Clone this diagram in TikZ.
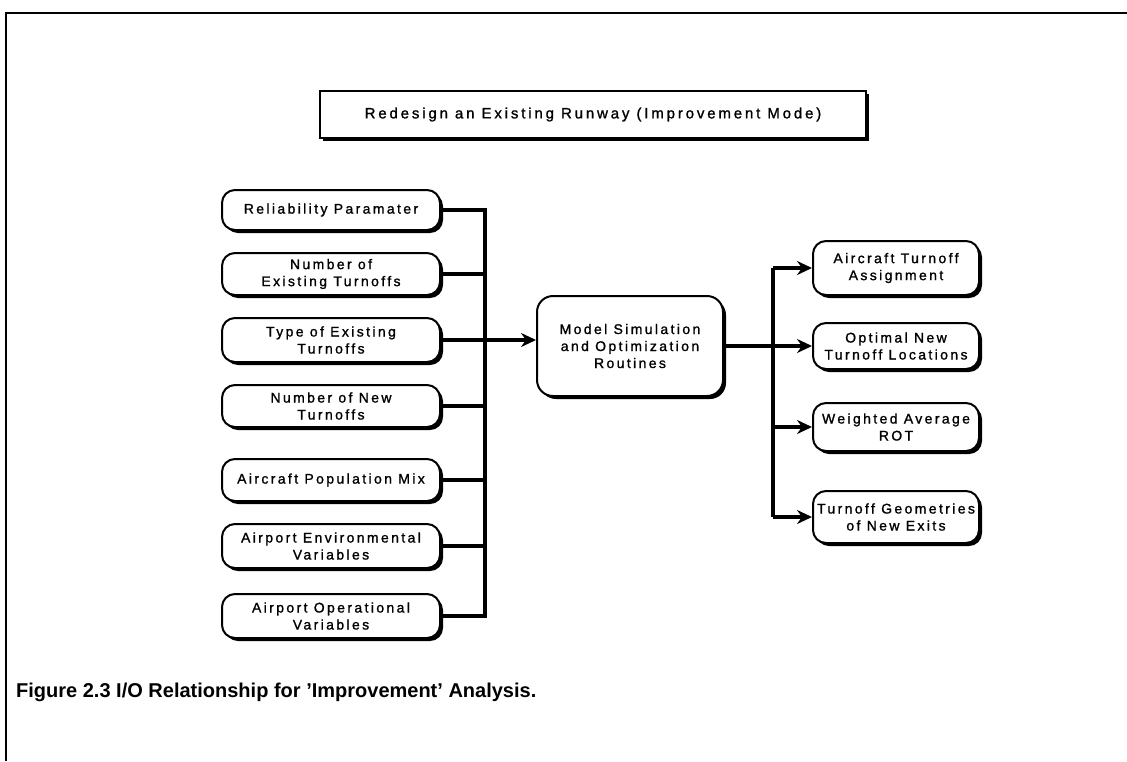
\documentclass[tikz,border=0pt]{standalone}
\usepackage{fontspec}
\setmainfont{Liberation Sans}
\newfontfamily\boxfont[LetterSpace=17,FakeBold=1.2]{Liberation Sans}
\newfontfamily\headfont[LetterSpace=19,FakeBold=1.2]{Liberation Sans}
\usetikzlibrary{arrows.meta,shadows}

\begin{document}
\begin{tikzpicture}[x=1pt,y=-1pt,
  font=\boxfont\fontsize{14}{17}\selectfont,
  shade/.style={drop shadow={shadow xshift=3pt,shadow yshift=-3pt,fill=black,opacity=1}},
  box/.style={draw,line width=2pt,rounded corners=13pt,fill=white,align=center,inner sep=0pt,shade},
  inbox/.style={box,minimum width=218pt,minimum height=42pt},
  outbox/.style={box,minimum width=166pt,minimum height=50pt},
  wire/.style={line width=3.2pt},
  arrow/.style={wire,-{Stealth[length=15pt,width=14pt,inset=5pt]}}
]
\useasboundingbox (0,0) rectangle (1127,761);

% page frame (top and left edges only)
\draw[line width=2.2pt] (6,761) -- (6,13) -- (1127,13);

% heading
\node[draw,line width=2pt,fill=white,inner sep=0pt,shade,
      minimum width=546pt,minimum height=47pt,
      font=\headfont\fontsize{15}{17}\selectfont] (title) at (593,114.5)
  {Redesign an Existing Runway (Improvement Mode)};

% inputs
\node[inbox,minimum height=40pt] (b1) at (331,210) {Reliability Paramater};
\node[inbox] (b2) at (331,274) {Number of\\Existing Turnoffs};
\node[inbox,minimum height=44pt] (b3) at (331,340) {Type of Existing\\Turnoffs};
\node[inbox] (b4) at (331,406) {Number of New\\Turnoffs};
\node[inbox] (b5) at (331,480) {Aircraft Population Mix};
\node[inbox,minimum height=44pt] (b6) at (331,546) {Airport Environmental\\Variables};
\node[inbox,minimum height=44pt] (b7) at (331,616) {Airport Operational\\Variables};

% model
\node[box,minimum width=186pt,minimum height=100pt,rounded corners=16pt] (model) at (630,346)
  {Model Simulation\\and Optimization\\Routines};

% outputs
\node[outbox,minimum height=54pt] (o1) at (896,268) {Aircraft Turnoff\\Assignment};
\node[outbox,minimum height=46pt] (o2) at (896,346) {Optimal New\\Turnoff Locations};
\node[outbox,minimum height=48pt] (o3) at (896,427) {Weighted Average\\ROT};
\node[outbox,minimum height=52pt] (o4) at (896,517) {Turnoff Geometries\\of New Exits};

% input bus
\coordinate (lbus) at (485,0);
\draw[wire] (b1.east) -- (b1.east -| lbus) -- (b7.east -| lbus) -- (b7.east);
\foreach \b in {b2,b4,b5,b6} \draw[wire] (\b.east) -- (\b.east -| lbus);
\draw[arrow] (b3.east) -- (b3.east -| model.west);

% output bus
\coordinate (rbus) at (773,0);
\draw[wire] (o1.west -| rbus) -- (o4.west -| rbus);
\draw[arrow] (model.east) -- (o2.west);
\foreach \o in {o1,o3,o4} \draw[arrow] (\o.west -| rbus) -- (\o.west);

% caption
\node[anchor=west,inner sep=0pt,font=\bfseries\fontsize{20}{24}\selectfont] (cap) at (16,692)
  {Figure 2.3 I/O Relationship for 'Improvement' Analysis.};
\end{tikzpicture}
\end{document}
